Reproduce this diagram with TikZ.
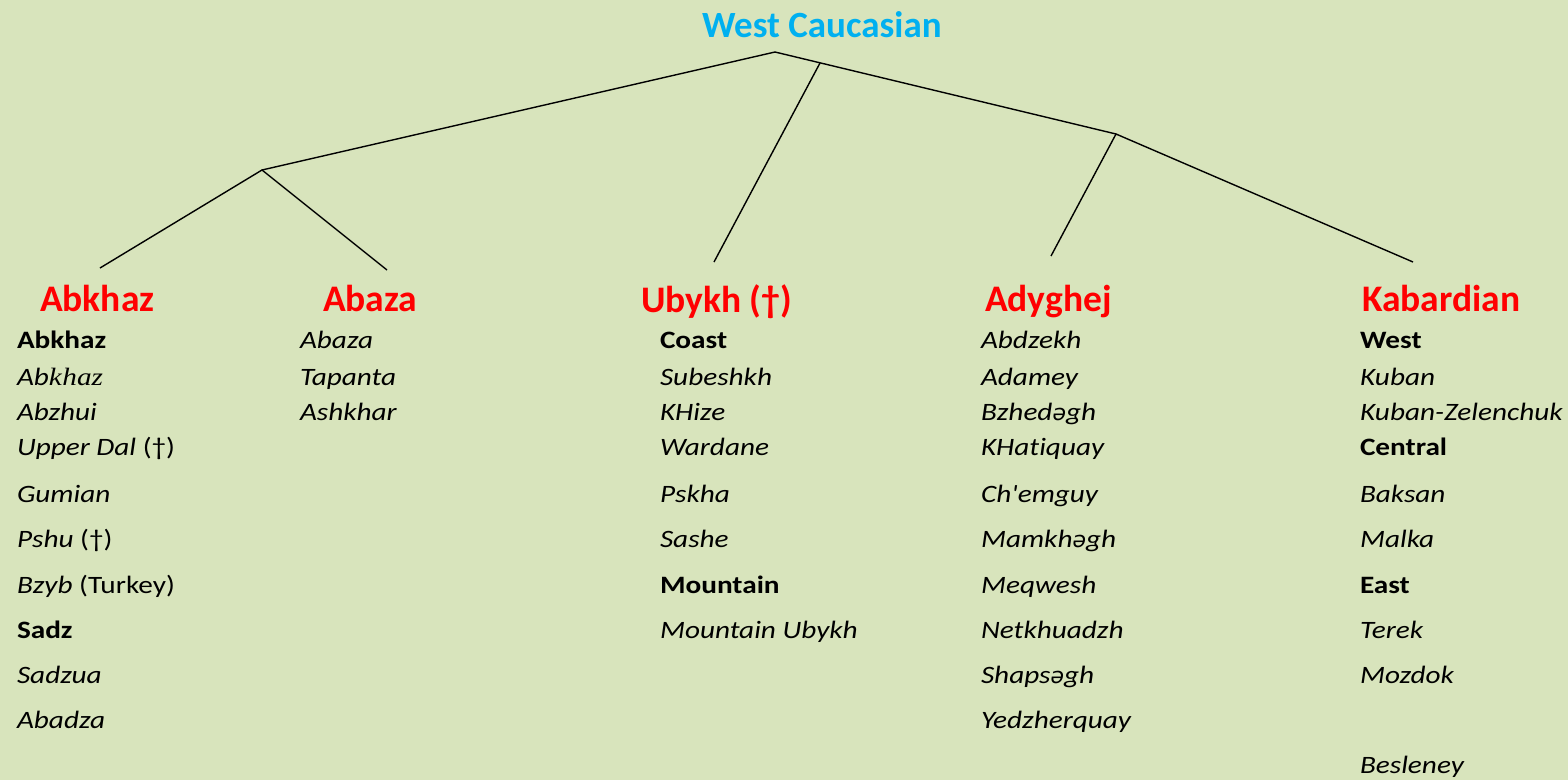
\documentclass[tikz,border=0pt]{standalone}
\usepackage{fontspec}
\setmainfont{Carlito}
\newfontfamily\lst[FakeStretch=1.17,Ligatures=NoCommon]{Carlito}
\newfontfamily\serifit[FakeStretch=1.17]{Liberation Serif}
\newfontfamily\dvs{DejaVu Sans}
\definecolor{bgcol}{RGB}{216,228,188}
\definecolor{titleblue}{RGB}{0,176,240}
\definecolor{hdred}{RGB}{255,0,0}
\newcommand{\schwa}{{\dvs\itshape\fontsize{22}{25}\selectfont ə}}
\begin{document}
\begin{tikzpicture}[x=1pt,y=-1pt,
  every node/.style={inner sep=0pt,outer sep=0pt,anchor=base west},
  title/.style={font=\fontsize{37}{44}\selectfont\bfseries,text=titleblue},
  hdr/.style={font=\fontsize{37.5}{44}\selectfont\bfseries,text=hdred},
  itm/.style={font=\lst\fontsize{25}{30}\selectfont\itshape},
  grp/.style={font=\lst\fontsize{25}{30}\selectfont\bfseries},
  branch/.style={line width=1.4pt,black}]
\fill[bgcol] (0,0) rectangle (1568,780);
\useasboundingbox (0,0) rectangle (1568,780);

% title
\node[title] (root) at (702,37) {West Caucasian};

% tree points
\coordinate (top) at (775,52);
\coordinate (nab) at (262,170);
\coordinate (nad) at (1116,134);
\coordinate (nub) at (820,63);
\coordinate (eabk) at (100,268);
\coordinate (eaba) at (387,270);
\coordinate (eub) at (714,262);
\coordinate (eady) at (1051,256);
\coordinate (ekab) at (1413,262);

\draw[branch] (nab) -- (top) -- (nad);
\draw[branch] (nub) -- (eub);
\draw[branch] (eabk) -- (nab) -- (eaba);
\draw[branch] (eady) -- (nad) -- (ekab);

% headers
\node[hdr] (habk) at (40,311) {Abkhaz};
\node[hdr] (haba) at (323,311) {Abaza};
\node[hdr] (hub) at (641,312) {Ubykh (†)};
\node[hdr] (hady) at (985,311) {Adyghej};
\node[hdr] (hkab) at (1362,311) {Kabardian};

% Abkhaz column
\node[grp] (a1) at (17,348) {Abkhaz};
\node[itm] (a2) at (17,385) {Ab{\serifit k\kern0.5pt haz}};
\node[itm] (a3) at (17,420) {Abzhui};
\node[itm] (a4) at (17,455) {Upper Dal \upshape(†)};
\node[itm] (a5) at (17,502) {Gumian};
\node[itm] (a6) at (17,547) {Pshu \upshape(†)};
\node[itm] (a7) at (17,593) {Bzyb \upshape(Turkey)};
\node[grp] (a8) at (17,638) {Sadz};
\node[itm] (a9) at (17,683) {Sadzua};
\node[itm] (a10) at (17,728) {Abadza};

% Abaza column
\node[itm] (b1) at (300,348) {Abaza};
\node[itm] (b2) at (300,385) {Tapanta};
\node[itm] (b3) at (300,420) {Ashkhar};

% Ubykh column
\node[grp] (u1) at (660,348) {Coast};
\node[itm] (u2) at (660,385) {Subeshkh};
\node[itm] (u3) at (660,420) {KHize};
\node[itm] (u4) at (660,455) {Wardane};
\node[itm] (u5) at (660,502) {Pskha};
\node[itm] (u6) at (660,547) {Sashe};
\node[grp] (u7) at (660,593) {Mountain};
\node[itm] (u8) at (660,638) {Mountain Ubykh};

% Adyghe column
\node[itm] (d1) at (981,348) {Abdzekh};
\node[itm] (d2) at (981,385) {Adamey};
\node[itm] (d3) at (981,420) {Bzhed\schwa gh};
\node[itm] (d4) at (981,455) {KHatiquay};
\node[itm] (d5) at (981,502) {Ch'emguy};
\node[itm] (d6) at (981,547) {Mamkh\schwa gh};
\node[itm] (d7) at (981,593) {Meqwesh};
\node[itm] (d8) at (981,638) {Netkhuadzh};
\node[itm] (d9) at (981,683) {Shaps\schwa gh};
\node[itm] (d10) at (981,728) {Yedzherquay};

% Kabardian column
\node[grp] (k1) at (1360,348) {West};
\node[itm] (k2) at (1360,385) {Kuban};
\node[itm] (k3) at (1360,420) {Kuban-Zelenchuk};
\node[grp] (k4) at (1360,455) {Central};
\node[itm] (k5) at (1360,502) {Baksan};
\node[itm] (k6) at (1360,547) {Malka};
\node[grp] (k7) at (1360,593) {East};
\node[itm] (k8) at (1360,638) {Terek};
\node[itm] (k9) at (1360,683) {Mozdok};
\node[itm] (k10) at (1360,773) {Besleney};
\end{tikzpicture}
\end{document}
